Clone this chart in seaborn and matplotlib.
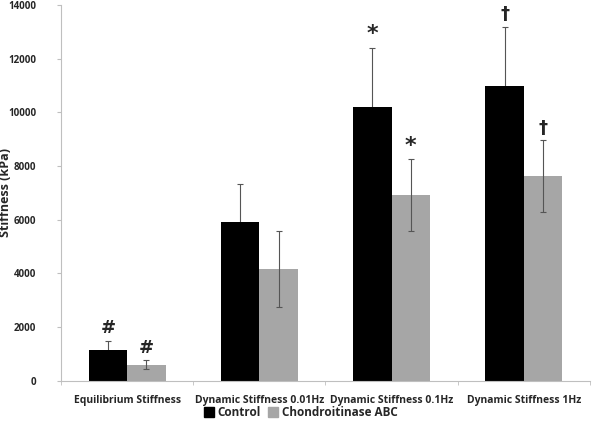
import numpy as np
import pandas as pd
import matplotlib
matplotlib.use("Agg")
import matplotlib.pyplot as plt
import seaborn as sns

categories = ["Equilibrium Stiffness", "Dynamic Stiffness 0.01Hz",
              "Dynamic Stiffness 0.1Hz", "Dynamic Stiffness 1Hz"]
groups = ["Control", "Chondroitinase ABC"]
control_mean = [1130, 5930, 10220, 10980]
control_err = [370, 1420, 2200, 2220]
abc_mean = [600, 4170, 6910, 7620]
abc_err = [170, 1420, 1340, 1340]
control_marks = ["#", "", "*", "†"]
abc_marks = ["#", "", "*", "†"]

df = pd.DataFrame({
    "category": categories * 2,
    "group": [groups[0]] * 4 + [groups[1]] * 4,
    "value": control_mean + abc_mean,
})

sns.set_style("white")
plt.rcParams["font.family"] = ["Open Sans", "DejaVu Sans"]

fig = plt.figure(figsize=(6, 4.25), dpi=100)
ax = fig.add_axes([0.102, 0.104, 0.881, 0.884])

palette = {"Control": "#000000", "Chondroitinase ABC": "#a6a6a6"}
sns.barplot(data=df, x="category", y="value", hue="group", order=categories,
            hue_order=groups, palette=palette, width=0.58, errorbar=None,
            saturation=1, linewidth=0, ax=ax, legend=False)

# error bars + significance marks on top of each bar
patches = ax.patches
for gi, (means, errs, marks) in enumerate([(control_mean, control_err, control_marks),
                                           (abc_mean, abc_err, abc_marks)]):
    for ci in range(len(categories)):
        p = patches[gi * len(categories) + ci]
        xc = p.get_x() + p.get_width() / 2
        # black bars hide the lower whisker -> draw those behind the bars
        z = 0.5 if gi == 0 else 3
        ax.errorbar(xc, means[ci], yerr=errs[ci], fmt="none", ecolor="#555555",
                    elinewidth=0.8, capsize=2.5, capthick=0.8, zorder=z)
        if marks[ci]:
            size = 16 if marks[ci] == "*" else 13
            ax.text(xc, means[ci] + errs[ci] + 120, marks[ci], ha="center",
                    va="bottom", fontsize=size, fontweight="bold",
                    family=["DejaVu Sans"])

ax.set_ylim(0, 14000)
ax.set_yticks(np.arange(0, 14001, 2000))
ax.set_xlim(-0.5, 3.5)
ax.set_xlabel("")
ax.set_ylabel("Stiffness (kPa)", fontsize=9, fontweight="bold")
ax.yaxis.set_label_coords(-0.093, 0.5)
ax.tick_params(axis="y", labelsize=7, length=3, color="#bfbfbf", left=True, pad=15)
ax.tick_params(axis="x", labelsize=7.5, length=0, pad=10)
for lbl in ax.get_xticklabels() + ax.get_yticklabels():
    lbl.set_fontweight("bold")
# category boundary ticks
ax.set_xticks([-0.5, 0.5, 1.5, 2.5, 3.5], minor=True)
ax.tick_params(axis="x", which="minor", length=3, color="#bfbfbf", bottom=True)

sns.despine(ax=ax)
for s in ["left", "bottom"]:
    ax.spines[s].set_color("#bfbfbf")
    ax.spines[s].set_linewidth(0.8)

handles = [plt.Line2D([], [], marker="s", linestyle="none", markersize=6.5,
                      color=palette[g]) for g in groups]
leg = fig.legend(handles, groups, loc="center", bbox_to_anchor=(0.5, 0.03),
                 ncol=2, frameon=False, handletextpad=0.2, columnspacing=0.6,
                 handlelength=1.0, prop={"weight": "bold", "size": 8.5})

fig.savefig("out.png", dpi=100)
